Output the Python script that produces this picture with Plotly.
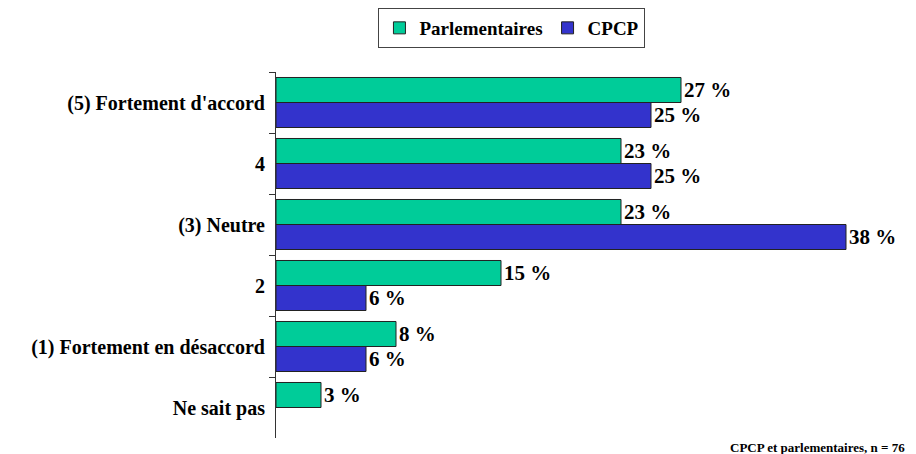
import plotly.graph_objects as go

categories = ["(5) Fortement d'accord", "4", "(3) Neutre", "2", "(1) Fortement en désaccord", "Ne sait pas"]
parlementaires = [27, 23, 23, 15, 8, 3]
cpcp = [25, 25, 38, 6, 6, None]

def labels(vals):
    return ["" if v is None else f"{v} %" for v in vals]

FONT = "Liberation Serif"

fig = go.Figure()
fig.add_trace(go.Bar(
    name="Parlementaires", y=categories, x=parlementaires, orientation="h",
    marker=dict(color="#00CC99", line=dict(color="#222222", width=1)),
    text=labels(parlementaires), textposition="outside", cliponaxis=False,
    textfont=dict(family=FONT, size=21, color="black", weight="bold"),
))
fig.add_trace(go.Bar(
    name="CPCP", y=categories, x=cpcp, orientation="h",
    marker=dict(color="#3333CC", line=dict(color="#222222", width=1)),
    text=labels(cpcp), textposition="outside", cliponaxis=False,
    textfont=dict(family=FONT, size=21, color="black", weight="bold"),
))

# page body has an 8px margin: figure sized/offset to compensate
fig.update_layout(
    width=908, height=446,
    margin=dict(l=268, r=40, t=64, b=16),
    barmode="group", bargap=0.18, bargroupgap=0,
    plot_bgcolor="white", paper_bgcolor="white",
    font=dict(family=FONT, size=16, color="black"),
    showlegend=True,
    legend=dict(
        orientation="h", xref="container", yref="container",
        x=0.555, xanchor="center", y=1.0, yanchor="top",
        bordercolor="#444444", borderwidth=1,
        font=dict(family=FONT, size=19, color="black", weight="bold"),
        traceorder="normal", itemwidth=30,
    ),
    uniformtext=dict(mode=False),
)
fig.update_xaxes(range=[0, 40], visible=False)
fig.update_yaxes(
    autorange="reversed", showline=True, linecolor="#333333", linewidth=1,
    ticks="outside", ticklen=6, tickcolor="#333333", tickson="boundaries",
    showgrid=False, automargin=False, ticklabelstandoff=6,
    tickfont=dict(family=FONT, size=20, color="black", weight="bold"),
)
fig.add_annotation(
    text="<b>CPCP et parlementaires, n = 76</b>", xref="paper", yref="paper",
    x=1.052, y=-0.025, xanchor="right", yanchor="middle", showarrow=False,
    font=dict(family=FONT, size=13, color="black"),
)

fig.write_html("out.html")
